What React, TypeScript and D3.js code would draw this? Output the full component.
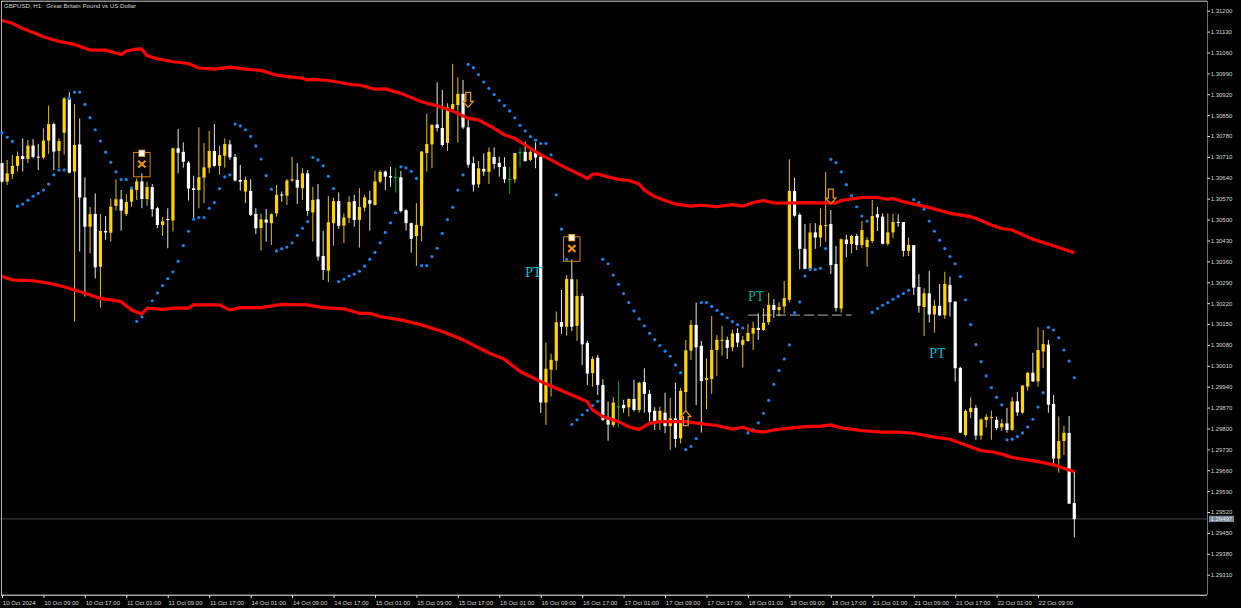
import React, { useEffect, useRef } from 'react';
import * as d3 from 'd3';

const WIDTH = 1241;
const HEIGHT = 608;
const POINT = 0.00001;

const title = 'GBPUSD, H1:  Great Britain Pound vs US Dollar';
const lastPrice = 1.29497;

const priceTicks = [
  1.312, 1.3113, 1.3106, 1.3099, 1.3092, 1.3085, 1.3078, 1.3071, 1.3064, 1.3057,
  1.305, 1.3043, 1.3036, 1.3029, 1.3022, 1.3015, 1.3008, 1.3001, 1.2994, 1.2987,
  1.298, 1.2973, 1.2966, 1.2959, 1.2952, 1.2945, 1.2938, 1.2931,
];

const timeLabels = [
  '10 Oct 2024', '10 Oct 09:00', '10 Oct 17:00', '11 Oct 01:00', '11 Oct 09:00', '11 Oct 17:00',
  '14 Oct 01:00', '14 Oct 09:00', '14 Oct 17:00', '15 Oct 01:00', '15 Oct 09:00', '15 Oct 17:00',
  '16 Oct 01:00', '16 Oct 09:00', '16 Oct 17:00', '17 Oct 01:00', '17 Oct 09:00', '17 Oct 17:00',
  '18 Oct 01:00', '18 Oct 09:00', '18 Oct 17:00', '21 Oct 01:00', '21 Oct 09:00', '21 Oct 17:00',
  '22 Oct 01:00', '22 Oct 09:00',
];
const BARS_PER_LABEL = 8;

// open, high, low, close in points (1e-5)
const ohlc: number[][] = [
  [130689,130691,130624,130627],[130627,130700,130616,130655],[130653,130717,130636,130680],[130680,130728,130661,130713],
  [130713,130772,130661,130703],[130703,130767,130689,130748],[130748,130770,130705,130710],[130711,130753,130666,130709],
  [130708,130806,130702,130765],[130765,130882,130720,130820],[130820,130825,130666,130728],[130730,130772,130672,130763],
  [130791,130910,130717,130906],[130906,130927,130655,130657],[130661,130887,130158,130750],[130752,130839,130393,130574],
  [130574,130641,130242,130476],[130476,130543,130387,130518],[130519,130588,130303,130340],[130342,130519,130205,130462],
  [130462,130512,130432,130457],[130456,130571,130426,130543],[130546,130635,130530,130568],[130568,130599,130463,130530],
  [130519,130585,130512,130559],[130560,130610,130543,130602],[130599,130638,130566,130628],[130628,130655,130538,130569],
  [130569,130627,130546,130609],[130609,130619,130510,130535],[130538,130543,130471,130482],[130482,130508,130445,130494],
  [130502,130538,130404,130499],[130497,130741,130460,130739],[130739,130804,130655,130724],[130727,130759,130674,130694],
  [130691,130696,130564,130604],[130605,130647,130504,130599],[130599,130809,130538,130642],[130641,130756,130555,130675],
  [130674,130797,130655,130730],[130730,130820,130677,130680],[130680,130747,130650,130716],[130714,130772,130674,130753],
  [130752,130767,130700,130709],[130710,130720,130627,130631],[130633,130683,130597,130627],[130594,130644,130555,130633],
  [130596,130635,130512,130516],[130519,130538,130451,130471],[130472,130521,130396,130501],[130500,130536,130426,130490],
  [130488,130521,130415,130518],[130521,130616,130510,130583],[130584,130594,130560,130581],[130580,130636,130549,130631],
  [130631,130711,130627,130635],[130633,130689,130552,130607],[130605,130672,130566,130655],[130655,130666,130513,130529],
  [130524,130610,130426,130566],[130568,130619,130363,130376],[130378,130462,130298,130331],[130329,130579,130290,130491],
  [130488,130574,130412,130562],[130562,130591,130469,130479],[130480,130521,130421,130507],[130506,130579,130488,130559],
  [130562,130583,130476,130499],[130499,130605,130406,130542],[130540,130583,130527,130574],[130565,130596,130463,130553],
  [130549,130664,130547,130628],[130627,130666,130622,130660],[130661,130664,130599,130644],[130646,130677,130610,130641],
  [130643,130672,130591,130643],[130642,130663,130524,130529],[130531,130535,130463,130488],[130488,130490,130389,130435],
  [130445,130555,130345,130482],[130479,130730,130428,130728],[130723,130856,130661,130753],[130752,130820,130672,130817],
  [130819,130960,130795,130807],[130807,130934,130745,130750],[130757,130890,130730,130876],[130870,131022,130865,130887],
  [130884,130977,130758,130921],[130921,130968,130803,130809],[130809,130834,130674,130684],[130689,130711,130594,130617],
  [130618,130696,130606,130672],[130670,130722,130647,130661],[130660,130742,130619,130727],[130710,130742,130670,130686],
  [130690,130711,130644,130676],[130677,130709,130622,130635],[130636,130677,130586,130636],[130635,130723,130622,130723],
  [130726,130741,130675,130726],[130727,130761,130694,130696],[130700,130733,130696,130727],[130726,130758,130672,130708],
  [130711,130713,129852,129887],[129887,130088,129812,130000],[129997,130050,129907,130030],[130027,130192,129996,130156],
  [130157,130264,130117,130141],[130141,130314,130111,130301],[130300,130367,130127,130141],[130144,130300,130094,130244],
  [130244,130253,130013,130082],[130087,130094,129946,129984],[129986,130041,129940,130033],[130037,130046,129912,129946],
  [129946,129965,129825,129829],[129831,129890,129759,129813],[129812,129905,129804,129887],[129874,129959,129804,129874],
  [129879,129896,129853,129868],[129871,129901,129840,129899],[129899,129963,129857,129862],[129862,129957,129853,129953],
  [129956,130002,129853,129916],[129916,129929,129823,129854],[129859,129871,129795,129823],[129823,129873,129795,129859],
  [129853,129920,129784,129808],[129808,129903,129728,129834],[129834,129954,129736,129765],[129767,129935,129750,129926],
  [129922,130097,129857,130062],[130061,130164,130030,130147],[130147,130222,129878,130072],[130077,130093,129786,129959],
  [129963,130035,129865,129969],[129966,130177,129916,130063],[130063,130113,129976,130097],[130094,130144,130044,130097],
  [130097,130108,130033,130070],[130072,130132,130058,130119],[130120,130136,130072,130088],[130080,130110,130004,130097],
  [130093,130150,130091,130120],[130118,130158,130063,130137],[130137,130186,130097,130130],[130130,130203,130127,130154],
  [130156,130255,130147,130214],[130214,130234,130171,130197],[130197,130223,130175,130207],[130209,130294,130186,130237],
  [130231,130702,130222,130596],[130596,130640,130510,130513],[130516,130521,130333,130402],[130402,130485,130333,130335],
  [130335,130488,130329,130457],[130457,130488,130402,130440],[130440,130538,130409,130481],[130479,130659,130426,130482],
  [130485,130532,130318,130348],[130351,130412,130192,130204],[130202,130437,130188,130434],[130433,130449,130373,130418],
  [130418,130449,130387,130445],[130445,130452,130398,130415],[130415,130495,130404,130465],[130408,130441,130342,130432],
  [130428,130566,130421,130512],[130518,130543,130462,130507],[130510,130521,130417,130419],[130419,130521,130412,130457],
  [130457,130519,130437,130492],[130492,130518,130476,130490],[130492,130492,130376,130395],[130395,130440,130378,130415],
  [130414,130415,130247,130272],[130274,130318,130188,130211],[130207,130270,130110,130253],[130253,130328,130155,130182],
  [130182,130231,130121,130211],[130211,130284,130177,130179],[130179,130325,130167,130284],[130281,130309,130175,130223],
  [130225,130227,129957,130002],[130003,130007,129784,129786],[129778,129864,129773,129859],[129855,129905,129834,129869],
  [129869,129879,129762,129776],[129776,129834,129762,129830],[129829,129848,129803,129839],[129836,129860,129762,129838],
  [129829,129840,129795,129802],[129804,129831,129792,129817],[129817,129869,129786,129795],[129795,129905,129793,129891],
  [129891,129922,129842,129854],[129853,129944,129849,129944],[129940,129988,129926,129987],[129987,130054,129956,129958],
  [129958,130139,129940,130063],[130058,130130,130002,130083],[130081,130097,129853,129880],[129882,129912,129683,129699],
  [129699,129840,129652,129758],[129758,129808,129711,129785],[129785,129842,129547,129548],[129550,129655,129435,129496],
];

// parabolic SAR, one value per bar, points
const sar = [
  130791,130776,130762,130545,130552,130565,130578,130588,130599,130619,130650,130666,130666,130906,130927,130927,
  130886,130842,130801,130763,130726,130692,130660,130634,130634,130606,130159,130174,130203,130228,130254,130279,
  130302,130325,130360,130413,130461,130501,130507,130507,130538,130557,130604,130643,130650,130820,130814,130801,
  130779,130747,130703,130647,130602,130395,130402,130408,130422,130447,130471,130493,130708,130700,130680,130645,
  130604,130292,130300,130311,130317,130327,130344,130367,130390,130422,130457,130489,130523,130677,130673,130662,
  130638,130346,130346,130376,130404,130454,130500,130541,130599,130650,131020,131009,130986,130961,130940,130919,
  130899,130882,130864,130841,130816,130797,130778,130766,130755,130755,130717,130583,130468,130367,129814,129829,
  129846,129861,129877,129891,130367,130352,130314,130283,130252,130222,130194,130167,130144,130119,130098,130078,
  130059,130042,130013,129987,129729,129740,129766,130222,130222,130209,130196,130183,130171,130158,130148,130137,
  129785,129796,129819,129851,129894,129948,129994,130033,130080,130188,130224,130311,130333,130333,130337,130403,
  130702,130691,130660,130617,130580,130543,130512,130495,130189,130202,130213,130222,130233,130243,130252,130263,
  130567,130557,130535,130495,130461,130431,130403,130376,130352,130309,130231,130148,130081,130024,129976,129937,
  129905,129879,129762,129764,129773,129785,129805,129831,129872,129920,130139,130130,130104,130063,130026,129970,
];

// bands read at their visible turning points: [bar, points]
const upperBand: number[][] = [
  [0,131167],[2,131158],[4,131140],[6,131127],[8,131113],[11,131097],[14,131087],[17,131068],[20,131068],[23,131053],
  [24,131065],[26,131071],[27,131072],[28,131049],[30,131039],[33,131029],[36,131023],[38,131008],[41,131004],[44,131011],
  [47,131004],[50,131000],[53,130984],[55,130979],[58,130974],[59,130968],[60,130970],[63,130966],[66,130957],[68,130951],
  [69,130951],[72,130937],[74,130938],[77,130923],[81,130895],[84,130881],[87,130864],[90,130839],[92,130834],[95,130806],
  [97,130784],[99,130772],[101,130750],[102,130739],[104,130717],[106,130700],[108,130681],[110,130664],[112,130647],[113,130637],
  [114,130652],[115,130653],[117,130643],[119,130635],[121,130631],[123,130619],[124,130599],[126,130577],[128,130564],[130,130552],
  [133,130545],[135,130548],[138,130543],[141,130550],[143,130545],[145,130557],[147,130564],[149,130556],[152,130555],[155,130557],
  [161,130555],[162,130564],[166,130574],[169,130574],[171,130568],[172,130571],[174,130560],[176,130552],[179,130540],[183,130521],
  [187,130510],[189,130497],[191,130482],[193,130470],[195,130465],[199,130434],[203,130412],[207,130389],
];
const lowerBand: number[][] = [
  [0,130309],[2,130298],[6,130295],[9,130287],[12,130275],[16,130253],[19,130236],[21,130231],[23,130225],[25,130197],
  [27,130184],[28,130203],[31,130199],[33,130203],[36,130203],[37,130214],[42,130214],[44,130197],[46,130205],[50,130205],
  [54,130216],[59,130214],[62,130205],[66,130201],[69,130186],[71,130186],[73,130175],[77,130164],[81,130147],[85,130125],
  [89,130097],[94,130053],[97,130032],[100,129991],[102,129974],[104,129957],[107,129935],[110,129912],[113,129890],[114,129862],
  [116,129840],[119,129823],[121,129806],[123,129797],[125,129817],[127,129823],[132,129823],[136,129814],[138,129810],[141,129798],
  [143,129804],[145,129792],[147,129788],[149,129795],[152,129801],[155,129806],[158,129808],[160,129812],[162,129802],[166,129793],
  [170,129788],[173,129788],[176,129784],[180,129771],[183,129764],[186,129745],[189,129726],[191,129722],[193,129714],[195,129703],
  [198,129695],[200,129689],[203,129678],[205,129667],[207,129655],
];

// trade markers
const signalBoxes = [
  { bar: 27, price: 1.30686 },
  { bar: 110, price: 1.30403 },
];
const arrowMarks = [
  { bar: 90, price: 1.30876, dir: 'down' },
  { bar: 160, price: 1.30552, dir: 'down' },
  { bar: 132, price: 1.2986, dir: 'up' },
];
const ptLabels = [
  { bar: 101, price: 1.30308, color: '#00c4dc' },
  { bar: 144, price: 1.30227, color: '#04a892' },
  { bar: 179, price: 1.30036, color: '#00bcdc' },
];
const levelLine = { fromBar: 144, toBar: 164, price: 1.3018 };

const GOLD = '#ffd400';
const WHITE = '#ffffff';
const GREEN = '#00c020';
const ORANGE = '#f0920c';

const App: React.FC = () => {
  const svgRef = useRef<SVGSVGElement>(null);

  useEffect(() => {
    if (!svgRef.current) return;
    const svg = d3.select(svgRef.current);
    svg.selectAll('*').remove();

    const x = d3.scaleLinear().domain([0, ohlc.length - 1]).range([2, 1074.3]);
    const y = d3.scaleLinear().domain([1.312, 1.2931]).range([10.7, 574.7]);
    const py = (points: number) => y(points * POINT);

    svg.append('rect').attr('width', WIDTH).attr('height', HEIGHT).attr('fill', '#000');

    // Last price line
    svg.append('line')
      .attr('x1', 0).attr('x2', 1207)
      .attr('y1', y(lastPrice)).attr('y2', y(lastPrice))
      .attr('stroke', '#444').attr('stroke-width', 1);

    // Frame
    const frame = svg.append('g').attr('fill', 'none');
    frame.append('line').attr('x1', 1.5).attr('x2', 1.5).attr('y1', 1).attr('y2', 595).attr('stroke', '#b0b0b0');
    frame.append('line').attr('x1', 1).attr('x2', 1207).attr('y1', 1.2).attr('y2', 1.2).attr('stroke', '#d0d0d0');
    frame.append('line').attr('x1', 1207.5).attr('x2', 1207.5).attr('y1', 1).attr('y2', 595).attr('stroke', '#707070');
    frame.append('line').attr('x1', 1).attr('x2', 1207).attr('y1', 595.2).attr('y2', 595.2).attr('stroke', '#f0f0f0');

    // Axes
    const yAxis = svg.append('g')
      .attr('transform', 'translate(1207.5,0)')
      .call(d3.axisRight(y).tickValues(priceTicks).tickSize(2.5).tickFormat(d3.format('.5f') as any));
    const xAxis = svg.append('g')
      .attr('transform', 'translate(0,595)')
      .call(d3.axisBottom(x)
        .tickValues(timeLabels.map((_, i) => i * BARS_PER_LABEL))
        .tickSize(3)
        .tickFormat((_, i) => timeLabels[i]));
    [yAxis, xAxis].forEach(axis => {
      axis.select('.domain').remove();
      axis.selectAll('line').attr('stroke', '#e0e0e0');
      axis.selectAll('text')
        .attr('fill', '#d4d4d4')
        .style('font-family', '"Liberation Sans", Arial, sans-serif')
        .style('font-size', '6px');
    });
    yAxis.selectAll('text').attr('x', 3.2);
    xAxis.selectAll('text').attr('text-anchor', 'start').attr('x', 0.3).attr('y', 6).attr('dy', '0.6em');

    // Candles
    const candles = svg.append('g')
      .selectAll('g')
      .data(ohlc)
      .enter()
      .append('g');
    const candleColor = (d: number[]) => (d[3] > d[0] ? GOLD : d[3] < d[0] ? WHITE : GREEN);

    candles.append('line')
      .attr('x1', (_, i) => x(i)).attr('x2', (_, i) => x(i))
      .attr('y1', d => py(d[1])).attr('y2', d => py(d[2]))
      .attr('stroke', candleColor)
      .attr('stroke-width', 0.9);
    candles.append('rect')
      .attr('x', (_, i) => x(i) - 1.6)
      .attr('width', 3.2)
      .attr('y', d => py(Math.max(d[0], d[3])))
      .attr('height', d => Math.max(Math.abs(py(d[0]) - py(d[3])), 1))
      .attr('fill', candleColor);

    // Level line
    svg.append('line')
      .attr('x1', x(levelLine.fromBar)).attr('x2', x(levelLine.toBar))
      .attr('y1', y(levelLine.price)).attr('y2', y(levelLine.price))
      .attr('stroke', '#e0e0e0').attr('stroke-opacity', 0.8)
      .attr('stroke-dasharray', '10 4');

    // Parabolic SAR
    svg.append('g')
      .selectAll('circle')
      .data(sar)
      .enter()
      .append('circle')
      .attr('cx', (_, i) => x(i))
      .attr('cy', d => py(d))
      .attr('r', 1.6)
      .attr('fill', '#0f86f0');

    // Bands
    const bandLine = d3.line<number[]>().x(d => x(d[0])).y(d => py(d[1]));
    [upperBand, lowerBand].forEach(band => {
      svg.append('path')
        .attr('d', bandLine(band))
        .attr('fill', 'none')
        .attr('stroke', '#ff0000')
        .attr('stroke-width', 3.2)
        .attr('stroke-linejoin', 'round');
    });

    // Signal boxes with cross marker
    signalBoxes.forEach(s => {
      const cx = x(s.bar);
      const cy = y(s.price);
      const g = svg.append('g').attr('transform', `translate(${cx},${cy})`);
      g.append('rect')
        .attr('x', -8.2).attr('y', -11.7).attr('width', 16.4).attr('height', 24.4)
        .attr('fill', 'none').attr('stroke', ORANGE).attr('stroke-width', 0.9);
      g.append('rect')
        .attr('x', -3).attr('y', -14).attr('width', 6).attr('height', 6.4)
        .attr('fill', '#fff').attr('stroke', ORANGE).attr('stroke-width', 0.8);
      g.append('path')
        .attr('d', 'M-3.6,-3.4L3.6,3.4M3.6,-3.4L-3.6,3.4')
        .attr('stroke', ORANGE).attr('stroke-width', 2.2).attr('fill', 'none');
    });

    // Hollow arrows, tip sits on the price
    const arrowPath = d3.line();
    arrowMarks.forEach(a => {
      const s = a.dir === 'down' ? -1 : 1;
      const shape: [number, number][] = [
        [0, 0], [5, s * 6], [2.4, s * 6], [2.4, s * 15], [-2.4, s * 15], [-2.4, s * 6], [-5, s * 6], [0, 0],
      ];
      svg.append('path')
        .attr('transform', `translate(${x(a.bar)},${y(a.price)})`)
        .attr('d', arrowPath(shape))
        .attr('fill', 'none')
        .attr('stroke', ORANGE)
        .attr('stroke-width', 1.3);
    });

    // PT labels
    svg.append('g')
      .selectAll('text')
      .data(ptLabels)
      .enter()
      .append('text')
      .attr('x', d => x(d.bar))
      .attr('y', d => y(d.price))
      .attr('fill', d => d.color)
      .style('font-family', '"Liberation Serif", "Times New Roman", serif')
      .style('font-size', '14px')
      .text('PT');

    // Title
    svg.append('text')
      .attr('x', 4)
      .attr('y', 8)
      .attr('fill', '#d4d4d4')
      .style('white-space', 'pre')
      .style('font-family', '"Liberation Sans", Arial, sans-serif')
      .style('font-size', '6.15px')
      .text(title);

    // Last price tag
    svg.append('rect')
      .attr('x', 1209).attr('y', y(lastPrice) - 3.2)
      .attr('width', 25).attr('height', 6.4)
      .attr('fill', '#778899');
    svg.append('text')
      .attr('x', 1210.5).attr('y', y(lastPrice))
      .attr('dy', '0.34em')
      .attr('fill', '#e8e8e8')
      .style('font-family', '"Liberation Sans", Arial, sans-serif')
      .style('font-size', '6px')
      .text(d3.format('.5f')(lastPrice));
  }, []);

  return (
    <>
      <style>{'body{margin:0;background:#000}'}</style>
      <svg ref={svgRef} width={WIDTH} height={HEIGHT} style={{ display: 'block' }} />
    </>
  );
};

export default App;
